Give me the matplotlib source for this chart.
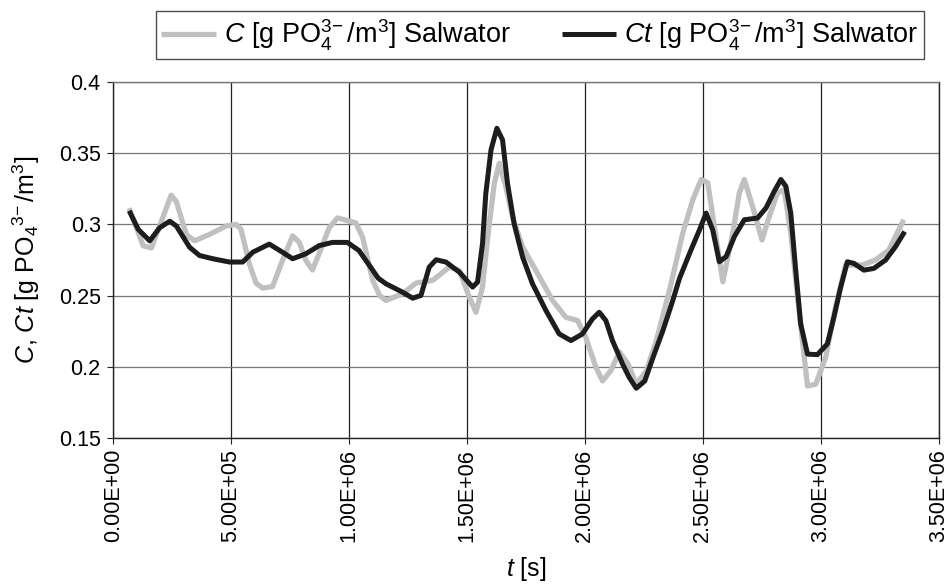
import numpy as np
import matplotlib
matplotlib.use("Agg")
import matplotlib.pyplot as plt
from matplotlib.ticker import FixedLocator, FuncFormatter

# --- data (time in 1e6 s, concentration in g PO4/m3) ---
t_c = [0.068, 0.127, 0.162, 0.204, 0.246, 0.268, 0.310, 0.345, 0.408, 0.479, 0.521, 0.542,
       0.577, 0.606, 0.634, 0.676, 0.718, 0.761, 0.789, 0.817, 0.845, 0.873, 0.916, 0.951,
       1.029, 1.058, 1.100, 1.130, 1.157, 1.227, 1.284, 1.355, 1.425, 1.468, 1.510, 1.538,
       1.566, 1.588, 1.616, 1.637, 1.665, 1.693, 1.736, 1.792, 1.863, 1.919, 1.969, 2.004,
       2.047, 2.075, 2.110, 2.146, 2.183, 2.218, 2.261, 2.303, 2.359, 2.415, 2.458, 2.493,
       2.521, 2.549, 2.585, 2.627, 2.655, 2.676, 2.711, 2.751, 2.782, 2.817, 2.845, 2.873,
       2.908, 2.944, 2.979, 3.021, 3.063, 3.106, 3.176, 3.232, 3.289, 3.352]
c_vals = [0.3115, 0.285, 0.2835, 0.302, 0.3206, 0.316, 0.293, 0.2885, 0.293, 0.2989, 0.300, 0.2966,
          0.2725, 0.2587, 0.2553, 0.2564, 0.2748, 0.292, 0.2874, 0.2748, 0.268, 0.2794, 0.2977, 0.3046,
          0.3011, 0.2908, 0.261, 0.250, 0.2466, 0.2513, 0.2588, 0.2607, 0.270, 0.2677, 0.2489, 0.2383,
          0.256, 0.2912, 0.3288, 0.343, 0.3265, 0.3053, 0.2842, 0.2677, 0.2466, 0.2348, 0.2325, 0.2207,
          0.1995, 0.1901, 0.1972, 0.2105, 0.2019, 0.1877, 0.1972, 0.2184, 0.2538, 0.2939, 0.3175, 0.3316,
          0.3292, 0.2986, 0.2597, 0.2939, 0.3222, 0.3316, 0.3127, 0.2891, 0.3057, 0.3222, 0.3245, 0.2939,
          0.2396, 0.1865, 0.1877, 0.2066, 0.242, 0.2715, 0.2715, 0.275, 0.2821, 0.3033]

t_ct = [0.068, 0.106, 0.155, 0.197, 0.240, 0.268, 0.324, 0.366, 0.423, 0.493, 0.549, 0.592,
        0.662, 0.718, 0.761, 0.817, 0.873, 0.930, 0.993, 1.042, 1.086, 1.124, 1.157, 1.227,
        1.270, 1.305, 1.340, 1.369, 1.411, 1.468, 1.524, 1.545, 1.566, 1.580, 1.602, 1.627,
        1.651, 1.672, 1.700, 1.736, 1.778, 1.835, 1.891, 1.941, 1.990, 2.032, 2.061, 2.089,
        2.117, 2.160, 2.188, 2.218, 2.254, 2.289, 2.331, 2.373, 2.401, 2.444, 2.486, 2.514,
        2.542, 2.570, 2.599, 2.634, 2.676, 2.732, 2.768, 2.803, 2.831, 2.852, 2.873, 2.894,
        2.915, 2.944, 2.986, 3.028, 3.056, 3.085, 3.113, 3.141, 3.183, 3.225, 3.275, 3.317, 3.356]
ct_vals = [0.3096, 0.2966, 0.2885, 0.2977, 0.3023, 0.2989, 0.284, 0.2782, 0.2759, 0.2736, 0.2736, 0.2805,
           0.2862, 0.2805, 0.2759, 0.2794, 0.2851, 0.2874, 0.2874, 0.2817, 0.2713, 0.2622, 0.2583, 0.2524,
           0.2482, 0.2501, 0.270, 0.2752, 0.2736, 0.2665, 0.256, 0.2595, 0.2865, 0.3218, 0.3524, 0.3676,
           0.3594, 0.3288, 0.3006, 0.2771, 0.2583, 0.2395, 0.2231, 0.2184, 0.2231, 0.2336, 0.2383, 0.2325,
           0.2184, 0.2019, 0.1925, 0.1849, 0.190, 0.2066, 0.2255, 0.2467, 0.262, 0.2797, 0.2962, 0.308,
           0.2962, 0.2738, 0.2774, 0.2915, 0.3033, 0.3045, 0.3116, 0.3233, 0.3316, 0.3269, 0.308, 0.2679,
           0.2302, 0.2089, 0.2085, 0.216, 0.2349, 0.2561, 0.2738, 0.2726, 0.2679, 0.2691, 0.275, 0.2844, 0.295]

x_ticks = [0, 0.5e6, 1.0e6, 1.5e6, 2.0e6, 2.5e6, 3.0e6, 3.5e6]
y_ticks = [0.15, 0.2, 0.25, 0.3, 0.35, 0.4]

plt.rcParams['font.family'] = ['Liberation Sans', 'DejaVu Sans']
plt.rcParams['mathtext.fontset'] = 'custom'
plt.rcParams['mathtext.rm'] = 'Liberation Sans'
plt.rcParams['mathtext.it'] = 'Liberation Sans:italic'

fig = plt.figure(figsize=(9.51, 5.87), dpi=100)
ax = fig.add_axes([0.119, 0.254, 0.868, 0.606])

ax.plot(np.array(t_c) * 1e6, c_vals, color='#c0c0c3', lw=3.8,
        solid_joinstyle='round', solid_capstyle='butt',
        label=r'$C$ [g PO$_4^{3\!-}$/m$^3$] Salwator')
ax.plot(np.array(t_ct) * 1e6, ct_vals, color='#1e1c1c', lw=3.6,
        solid_joinstyle='round', solid_capstyle='butt',
        label=r'$Ct$ [g PO$_4^{3\!-}$/m$^3$] Salwator')

ax.set_xlim(0, 3.5e6)
ax.set_ylim(0.15, 0.4)
ax.xaxis.set_major_locator(FixedLocator(x_ticks))
ax.yaxis.set_major_locator(FixedLocator(y_ticks))
ax.xaxis.set_major_formatter(FuncFormatter(lambda v, p: f"{v:.2E}"))
ax.yaxis.set_major_formatter(FuncFormatter(lambda v, p: f"{v:g}"))
ax.tick_params(axis='x', labelrotation=90, labelsize=15.5, direction='out', length=4,
               color='#222', pad=4)
ax.tick_params(axis='y', labelsize=15.5, direction='out', length=4, color='#222', pad=5)

ax.grid(axis='x', color='#222222', lw=0.9)
ax.grid(axis='y', color='#777777', lw=0.9)
ax.set_axisbelow(True)
for s in ax.spines.values():
    s.set_color('#222222')
    s.set_linewidth(1.0)
ax.spines['top'].set_color('#777777')

ax.set_xlabel(r'$t$ [s]', fontsize=18, labelpad=9)
ax.set_ylabel(r'$C$, $Ct$ [g PO$_4$$^{3\!-}$/m$^3$]', fontsize=18, labelpad=12)

leg = fig.legend(loc='center', bbox_to_anchor=(540 / 951, 1 - 35 / 587), ncol=2, fontsize=19.5,
                 frameon=True, fancybox=False, edgecolor='#222222', handlelength=2.0,
                 columnspacing=1.9, borderpad=0.22, handletextpad=0.3, borderaxespad=0)
leg.get_frame().set_linewidth(1.0)

fig.savefig('out.png', dpi=100)
